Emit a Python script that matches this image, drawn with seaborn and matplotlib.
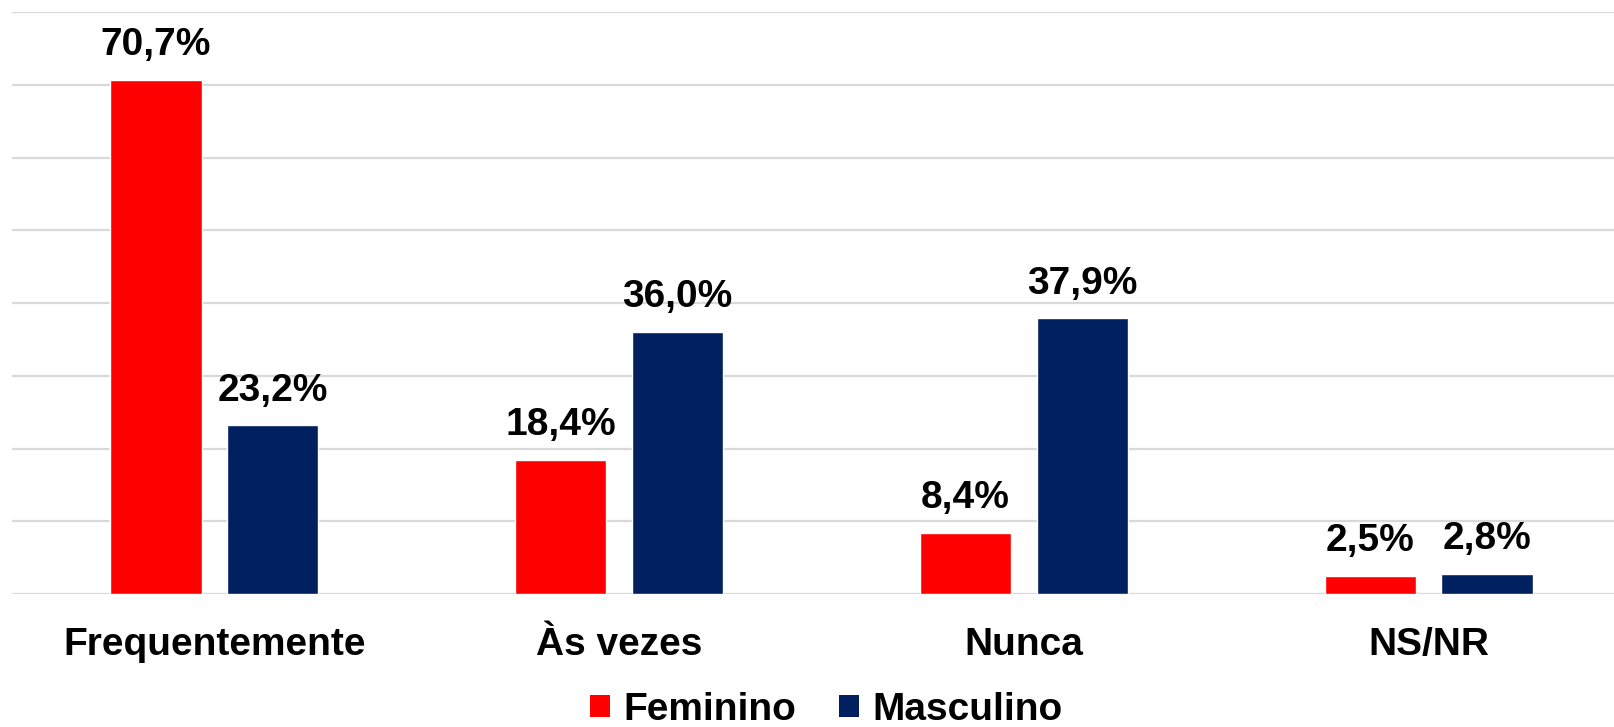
import matplotlib.pyplot as plt
import numpy as np
import pandas as pd
import seaborn as sns
from matplotlib.patches import Patch

# dados
categorias = ['Frequentemente', 'Às vezes', 'Nunca', 'NS/NR']
feminino = [70.7, 18.4, 8.4, 2.5]
masculino = [23.2, 36.0, 37.9, 2.8]
series = ['Feminino', 'Masculino']
cores = ['#FF0000', '#002060']

df = pd.DataFrame({
    'categoria': categorias * 2,
    'sexo': ['Feminino'] * len(categorias) + ['Masculino'] * len(categorias),
    'valor': feminino + masculino,
})

sns.set_theme(style='white')
plt.rcParams['font.family'] = ['Liberation Sans', 'DejaVu Sans']
plt.rcParams['font.weight'] = 'bold'
plt.rcParams['text.color'] = 'black'
plt.rcParams['xtick.color'] = 'black'

fig = plt.figure(figsize=(16.14, 7.27), dpi=100)
# eixo um pouco mais largo que a figura (o original está cortado à direita)
ax = fig.add_axes([12 / 1614, 133 / 727, 1619 / 1614, 582 / 727])

sns.barplot(
    data=df, x='categoria', y='valor', hue='sexo',
    order=categorias, hue_order=series, palette=cores,
    width=0.577, gap=0.22, saturation=1, legend=False, ax=ax,
)

for cont in ax.containers:
    labels = [f"{b.get_height():.1f}%".replace('.', ',') for b in cont]
    ax.bar_label(cont, labels=labels, padding=12, fontsize=28,
                 fontweight='bold', color='black')

ax.set_xlim(-0.5, 3.5)
ax.set_ylim(0, 80)
ax.set_yticks(np.arange(0, 81, 10))
ax.set_yticklabels([])
ax.tick_params(axis='y', length=0)
ax.tick_params(axis='x', length=0, pad=24, labelsize=28, labelcolor='black')
for t in ax.get_xticklabels():
    t.set_fontweight('bold')
ax.set_xlabel('')
ax.set_ylabel('')
ax.set_axisbelow(True)
ax.yaxis.grid(True, color='#D9D9D9', linewidth=1.6)
for s in ax.spines.values():
    s.set_visible(False)

handles = [Patch(facecolor=c, edgecolor='none') for c in cores]
leg = fig.legend(
    handles, series, loc='center', bbox_to_anchor=(0.512, 17 / 727),
    ncol=2, frameon=False, handlelength=0.5, handleheight=0.5,
    handletextpad=0.35, columnspacing=1.1, prop={'weight': 'bold', 'size': 28},
)
for t in leg.get_texts():
    t.set_color('black')

fig.savefig('out.png', dpi=100)
